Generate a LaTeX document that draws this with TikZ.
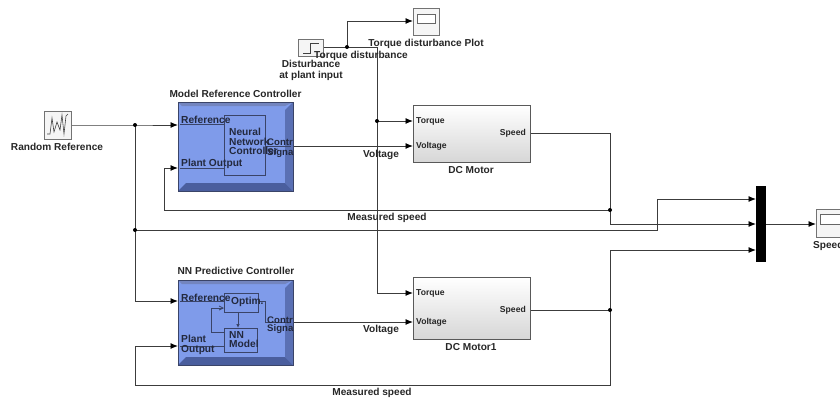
\documentclass[tikz,border=0pt]{standalone}
\usepackage{fontspec}
\setmainfont{Liberation Sans}
\usetikzlibrary{arrows.meta,calc}
\definecolor{face}{HTML}{7F9BEA}
\definecolor{bevel}{HTML}{5A70B4}
\definecolor{bevelb}{HTML}{4A5E9E}
\definecolor{rim}{HTML}{3A4468}
\definecolor{wire}{HTML}{3C3C3C}
\tikzset{
  wirel/.style={draw=wire,line width=0.9pt},
  arr/.style={wirel,-{Latex[length=7.5pt,width=6pt,black]}},
  lab/.style={font=\bfseries\fontsize{10.1}{11}\selectfont,text=black!85,inner sep=0pt,align=center},
  sm/.style={font=\bfseries\fontsize{8.6}{9}\selectfont,text=black!85,inner sep=0pt},
  inl/.style={font=\bfseries\fontsize{10.2}{9.5}\selectfont,text=rim!60!black,inner sep=0pt,align=left},
  ctl/.style={font=\bfseries\fontsize{9.6}{10}\selectfont,text=rim!60!black,inner sep=0pt,anchor=north west,align=left},
  ctlb/.style={font=\bfseries\fontsize{9.6}{8}\selectfont,text=rim!60!black,inner sep=0pt,anchor=north west,align=left},
  iconbox/.style={draw=black!55,line width=1.2pt,fill=black!4,inner sep=0pt,anchor=north west},
  motor/.style={draw=black!65,line width=1pt,top color=white,bottom color=black!16,inner sep=0pt,anchor=north west,minimum width=117pt},
  inner/.style={draw=rim,line width=0.8pt,inner sep=0pt,anchor=north west},
  dotj/.style={circle,fill=black,inner sep=0pt,minimum size=4pt},
  subs/.style={draw=rim,line width=1pt,fill=face,inner sep=0pt,anchor=north west,minimum width=115pt},
  screen/.style={draw=black!60,line width=0.7pt,fill=white,inner sep=0pt,minimum width=18pt,minimum height=9pt},
}
\begin{document}
\begin{tikzpicture}[x=1pt,y=-1pt]
\useasboundingbox (0,0) rectangle (840,397);
% subsystems
\node[subs,minimum height=89pt] (mrc) at (178,102) {};
\fill[bevel] (293,102)--(293,191)--(285,183)--(285,110)--cycle;
\fill[bevelb] (178,191)--(293,191)--(285,183)--(186,183)--cycle;
\fill[bevel!85!white] (178,102)--(293,102)--(285,106)--(182,106)--cycle;
\draw[rim,line width=1pt] (178,102) rectangle (293,191);
\node[inner,minimum width=41pt,minimum height=60pt] (mrcin) at (224,115) {};
\node[subs,minimum height=85pt] (nnp) at (178,280) {};
\fill[bevel] (293,280)--(293,365)--(285,357)--(285,288)--cycle;
\fill[bevelb] (178,365)--(293,365)--(285,357)--(186,357)--cycle;
\fill[bevel!85!white] (178,280)--(293,280)--(285,284)--(182,284)--cycle;
\draw[rim,line width=1pt] (178,280) rectangle (293,365);
\node[inner,minimum width=34pt,minimum height=19pt] (opt) at (224,293) {};
\node[inner,minimum width=33pt,minimum height=24pt] (nnm) at (224,328) {};
% inner wires
\draw[rim,line width=0.8pt] (180,124)--(mrcin.west|-0,124);
\draw[rim,line width=0.8pt] (180,168)--(mrcin.west|-0,168);
\draw[rim,line width=0.8pt] (mrcin.east|-0,146)--(291,146);
\draw[rim,line width=0.8pt] (180,301)--(opt.west|-0,301);
\draw[rim,line width=0.8pt] (180,346)--(nnm.west|-0,346);
\draw[rim,line width=0.8pt] (opt.east|-0,301)--(265,301)--(265,322)--(291,322);
\draw[rim,line width=0.8pt,-{Latex[length=4pt,width=3.5pt]}] (238,312)--(238,328);
\draw[rim,line width=0.8pt,-{Straight Barb[length=4pt,width=4pt]}] (224,332)--(211,332)--(211,308)--(224,308);
\node[inl,anchor=west] (t1) at (181,120) {Reference};
\node[inl,anchor=west] (t2) at (181,164) {Plant Output};
\node[inl,anchor=north west] (t3) at (229,128) {Neural\\Network\\Controller};
\node[ctl] (t4) at (267,139) {Contr\\Signa};
\node[inl,anchor=west] (t5) at (181,298) {Reference};
\node[inl,anchor=west] (t6) at (231,302) {Optim.};
\node[inl,anchor=north west] (t7) at (229,331) {NN\\Model};
\node[inl,anchor=north west] (t8) at (181,335) {Plant\\Output};
\node[ctlb] (t9) at (267,317) {Contr\\Signa};
\node[lab,anchor=south] (mrct) at (235.5,98) {Model Reference Controller};
\node[lab,anchor=south] (nnpt) at (236,275) {NN Predictive Controller};
% blocks
\node[iconbox,minimum width=27pt,minimum height=28pt] (rand) at (44,111) {};
\draw[black!75,line width=0.6pt] (47,134)--(50,134)--(52,118)--(54,132)--(57,122)--(60,130)--(62,115)--(64,134)--(66,116)--(68,114);
\node[iconbox,minimum width=25pt,minimum height=17pt] (step) at (298,39) {};
\draw[black!75,line width=0.7pt] (303,53)--(310,53)--(310,43)--(319,43);
\node[iconbox,minimum width=26pt,minimum height=27pt] (tscope) at (413,8) {};
\node[screen] (tscr) at ($(tscope.center)+(0,-3)$) {};
\node[iconbox,minimum width=30pt,minimum height=28pt] (sscope) at (816,209) {};
\node[screen,minimum width=20pt,minimum height=10pt] (sscr) at (830,219.5) {};
\node[motor,minimum height=57pt] (m1) at (413,105) {};
\node[motor,minimum height=62pt] (m2) at (413,277) {};
\node[sm,anchor=west] (m1a) at (416,121) {Torque};
\node[sm,anchor=west] (m1b) at (416,146) {Voltage};
\node[sm,anchor=east] (m1c) at (526,133) {Speed};
\node[sm,anchor=west] (m2a) at (416,293) {Torque};
\node[sm,anchor=west] (m2b) at (416,322) {Voltage};
\node[sm,anchor=east] (m2c) at (526,310.5) {Speed};
\node[fill=black,inner sep=0pt,minimum width=10pt,minimum height=76pt,anchor=north west] (mux) at (756,186) {};
% junctions
\coordinate (j1) at (135,125);
\coordinate (j2) at (135,230);
\coordinate (j3) at (347,47);
\coordinate (j4) at (377,121);
\coordinate (j5) at (610,210);
\coordinate (j6) at (610,310);
% wires
\draw[arr] (rand.east|-j1)--(j1)--(mrc.west|-j1);
\draw[arr] (j1)--(135,301)--(nnp.west|-0,301);
\draw[wirel] (j2)--(657,230)--(657,199);
\draw[arr] (657,199)--(mux.west|-0,199);
\draw[arr] (m1.east|-0,133)--(610,133)--(610,224)--(mux.west|-0,224);
\draw[arr] (j5)--(164,210)--(164,168)--(mrc.west|-0,168);
\draw[wirel] (m2.east|-j6)--(j6);
\draw[wirel] (j6)--(610,250);
\draw[arr] (610,250)--(mux.west|-0,250);
\draw[arr] (j6)--(610,385)--(135,385)--(135,346)--(nnp.west|-0,346);
\draw[arr] (mux.east|-0,224)--(sscope.west|-0,224);
\draw[wirel] (step.east|-j3)--(377,47)--(j4);
\draw[arr] (j3)--(347,21)--(tscope.west|-0,21);
\draw[arr] (j4)--(m1.west|-j4);
\draw[arr] (j4)--(377,293)--(m2.west|-0,293);
\draw[arr] (mrc.east|-0,146)--(m1.west|-0,146);
\draw[arr] (nnp.east|-0,322)--(m2.west|-0,322);
\foreach \p in {j1,j2,j3,j4,j5,j6}{\node[dotj] at (\p) {};}
% labels
\node[lab] (l1) at (57,147) {Random Reference};
\node[lab] (l2) at (426,44) {Torque disturbance Plot};
\node[lab] (l3) at (361,56) {Torque disturbance};
\node[lab] (l4) at (311,70.5) {Disturbance\\at plant input};
\node[lab] (l5) at (381,155) {Voltage};
\node[lab] (l6) at (471,170) {DC Motor};
\node[lab] (l7) at (387,218) {Measured speed};
\node[lab] (l8) at (381,330) {Voltage};
\node[lab] (l9) at (471,347) {DC Motor1};
\node[lab] (l10) at (372,393) {Measured speed};
\node[lab,anchor=west] (l11) at (813,246) {Speed};
\end{tikzpicture}
\end{document}
